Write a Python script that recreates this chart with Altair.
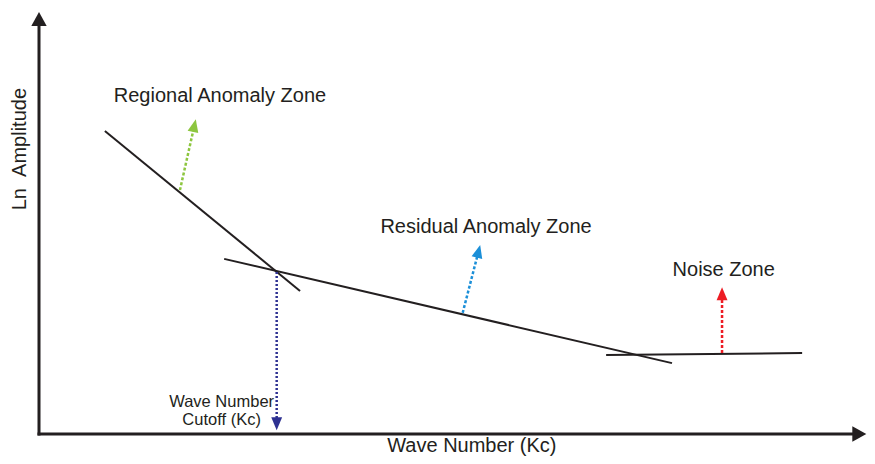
import math
import altair as alt
import pandas as pd

# ---------------- data (schematic units: both axes run 0 -> ~100) ----------------
seg_names = ["Regional", "Residual", "Noise"]
seg_x1 = [7.9, 22.2, 68.0]
seg_y1 = [71.8, 41.5, 18.7]
seg_x2 = [31.3, 75.9, 91.5]
seg_y2 = [33.9, 16.8, 19.2]

arrow_names = ["Regional", "Residual", "Noise"]
arrow_x1 = [16.9, 50.8, 81.9]
arrow_y1 = [57.8, 28.7, 19.2]
arrow_x2 = [18.8, 52.9, 81.9]
arrow_y2 = [74.6, 44.8, 34.8]
arrow_colors = ["#8dc63f", "#1b8fd8", "#ed1c24"]

cutoff_x = [28.5, 28.5]
cutoff_y = [38.4, 0.9]
cutoff_color = "#2e3192"

label_texts = ["Regional Anomaly Zone", "Residual Anomaly Zone", "Noise Zone"]
label_x = [21.7, 53.6, 82.1]
label_y = [80.1, 49.1, 38.9]

cutoff_lines = ["Wave Number", "Cutoff (Kc)"]
cutoff_label_x = [21.9, 21.9]
cutoff_label_y = [7.6, 3.3]

x_title = "Wave Number (Kc)"
x_title_pos = (51.9, -4.27)
y_title = "Ln \u00a0Amplitude"
y_title_pos = (-2.24, 67.5)

x_axis_end = 99.2
y_axis_end = 100

# ---------------- layout ----------------
W, H = 859, 448
KX, KY = 8.34, 4.22          # pixels per unit
OX, OY = 31, 426             # origin in chart pixels
XDOM = [-OX / KX, (W - OX) / KX]
YDOM = [(OY - H) / KY, OY / KY]
INK = "#231f20"
FONT = "Liberation Sans"

xs = alt.Scale(domain=XDOM, nice=False, zero=False)
ys = alt.Scale(domain=YDOM, nice=False, zero=False)


def arrow_geom(x1, y1, x2, y2, shorten_px):
    dxp = (x2 - x1) * KX
    dyp = (y2 - y1) * KY
    lp = math.hypot(dxp, dyp)
    ang = math.degrees(math.atan2(dxp, dyp)) % 360
    t = shorten_px / lp
    return x2 - (x2 - x1) * t, y2 - (y2 - y1) * t, ang


seg_df = pd.DataFrame({"x": seg_x1, "y": seg_y1, "x2": seg_x2, "y2": seg_y2, "name": seg_names})

ax_rows, ax_heads = [], []
for (x1, y1, x2, y2) in [(0, 0, x_axis_end, 0), (0, 0, 0, y_axis_end)]:
    ex, ey, ang = arrow_geom(x1, y1, x2, y2, 10)
    ax_rows.append({"x": x1, "y": y1, "x2": ex, "y2": ey})
    ax_heads.append({"x": x2, "y": y2, "angle": ang})
ax_df = pd.DataFrame(ax_rows)
ax_head_df = pd.DataFrame(ax_heads)

arr_rows, arr_heads = [], []
for n, x1, y1, x2, y2, c in zip(arrow_names, arrow_x1, arrow_y1, arrow_x2, arrow_y2, arrow_colors):
    ex, ey, ang = arrow_geom(x1, y1, x2, y2, 8)
    arr_rows.append({"x": x1, "y": y1, "x2": ex, "y2": ey, "color": c})
    arr_heads.append({"x": x2, "y": y2, "angle": ang, "color": c})
ex, ey, ang = arrow_geom(cutoff_x[0], cutoff_y[0], cutoff_x[1], cutoff_y[1], 8)
cut_df = pd.DataFrame([{"x": cutoff_x[0], "y": cutoff_y[0], "x2": ex, "y2": ey, "color": cutoff_color}])
arr_heads.append({"x": cutoff_x[1], "y": cutoff_y[1], "angle": ang, "color": cutoff_color})
arr_df = pd.DataFrame(arr_rows)
arr_head_df = pd.DataFrame(arr_heads)

HEAD_SMALL = "M0,0L0.42,1L-0.42,1Z"
HEAD_BIG = "M0,0L0.55,1L-0.55,1Z"


def rules(df, **kw):
    enc = dict(
        x=alt.X("x:Q", scale=xs, axis=None),
        y=alt.Y("y:Q", scale=ys, axis=None),
        x2="x2:Q",
        y2="y2:Q",
    )
    if "color" in df.columns:
        enc["color"] = alt.Color("color:N", scale=None)
    return alt.Chart(df).mark_rule(**kw).encode(**enc)


seg_layer = rules(seg_df, color=INK, strokeWidth=2)
ax_layer = rules(ax_df, color=INK, strokeWidth=3, strokeCap="square")
arr_layer = rules(arr_df, strokeWidth=2.5, strokeDash=[3, 2])
cut_layer = rules(cut_df, strokeWidth=2.5, strokeDash=[2, 2])

ax_head_layer = alt.Chart(ax_head_df).mark_point(
    shape=HEAD_BIG, size=(2 * 14) ** 2, filled=True, opacity=1, color=INK, strokeWidth=0
).encode(
    x=alt.X("x:Q", scale=xs, axis=None),
    y=alt.Y("y:Q", scale=ys, axis=None),
    angle=alt.Angle("angle:Q", scale=None),
)

arr_head_layer = alt.Chart(arr_head_df).mark_point(
    shape=HEAD_SMALL, size=(2 * 13) ** 2, filled=True, opacity=1, strokeWidth=0
).encode(
    x=alt.X("x:Q", scale=xs, axis=None),
    y=alt.Y("y:Q", scale=ys, axis=None),
    angle=alt.Angle("angle:Q", scale=None),
    color=alt.Color("color:N", scale=None),
)


def texts(df, size, baseline="middle", **kw):
    return alt.Chart(df).mark_text(
        font=FONT, fontSize=size, color=INK, align="center", baseline=baseline, **kw
    ).encode(
        x=alt.X("x:Q", scale=xs, axis=None),
        y=alt.Y("y:Q", scale=ys, axis=None),
        text="t:N",
    )


zone_df = pd.DataFrame({"x": label_x, "y": label_y, "t": label_texts})
cutlab_df = pd.DataFrame({"x": cutoff_label_x, "y": cutoff_label_y, "t": cutoff_lines})
xt_df = pd.DataFrame({"x": [x_title_pos[0]], "y": [x_title_pos[1]], "t": [x_title]})
yt_df = pd.DataFrame({"x": [y_title_pos[0]], "y": [y_title_pos[1]], "t": [y_title]})

chart = alt.layer(
    seg_layer,
    arr_layer,
    cut_layer,
    arr_head_layer,
    ax_layer,
    ax_head_layer,
    texts(zone_df, 20),
    texts(cutlab_df, 16.5),
    texts(xt_df, 20, baseline="alphabetic"),
    texts(yt_df, 20, angle=270),
).properties(
    width=W, height=H, padding=0, autosize="none", background="white"
).configure_view(stroke=None)

chart.save("out.html", embed_options={"renderer": "svg", "actions": False})
